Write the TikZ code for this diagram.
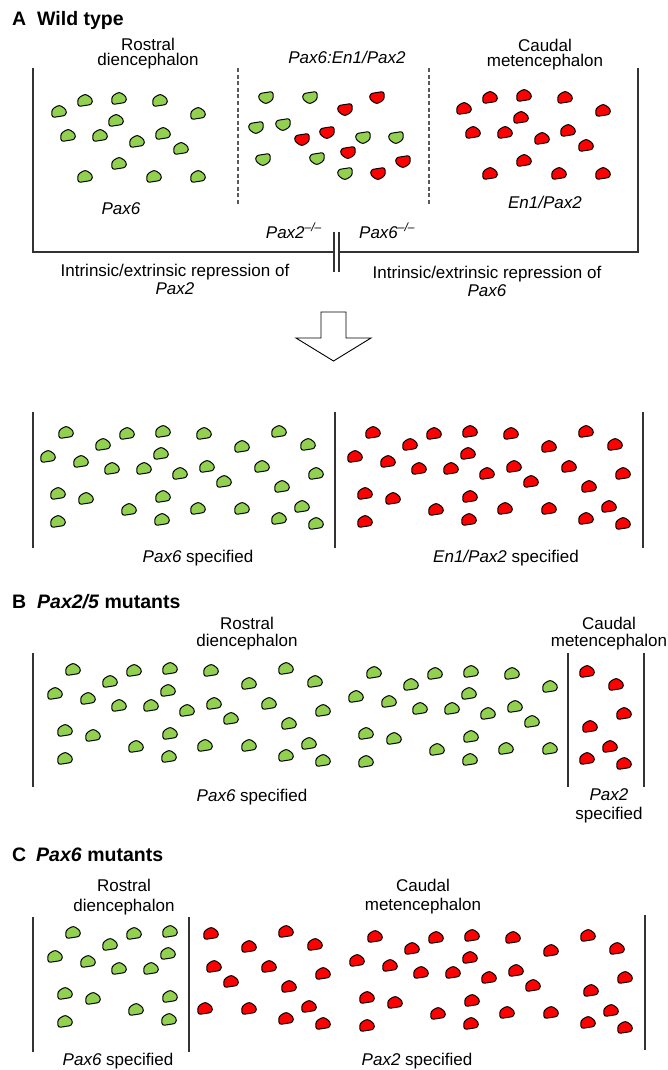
\documentclass[tikz,border=0pt]{standalone}
\usepackage{fontspec}
\setmainfont{Liberation Sans}
\usetikzlibrary{positioning}

\definecolor{cellgreen}{RGB}{146,208,80}
\definecolor{cellred}{RGB}{255,0,0}

% cell centres of the lower panels (one block, copied)
\newcommand{\cellset}{66/53,127/54,163/52,204/54,279/52,103/65,242/67,308/65,48/77,81/82,161/74,112/89,144/89,180/94,207/87,316/94,224/102,282/107,58/114,86/119,163/117,129/130,198/129,242/129,302/127,58/142,162/140,279/139,316/144}
% cell centres of the upper wild type regions
\newcommand{\upperset}{59/112,85/101,119/99,160/101,198/114,116/121,68/136,100/136,137/142,163/134,181/149,119/164,85/177,154/177,198/177}
% #1,#2 offset; green left of #3, red right of #4
\newcommand{\cellcopy}[4]{%
  \foreach \cx/\cy in \cellset {%
    \pgfmathsetmacro{\px}{\cx+#1}%
    \pgfmathsetmacro{\py}{\cy+#2}%
    \ifdim\px pt<#3pt \pic[fill=cellgreen] at (\px,\py) {cellshape};\fi
    \ifdim\px pt>#4pt \pic[fill=cellred] at (\px,\py) {cellshape};\fi
  }}

\begin{document}
\begin{tikzpicture}[x=1pt,y=-1pt,
  lab/.style={font=\fontsize{17}{15}\selectfont,align=center,inner sep=0pt},
  lab1/.style={font=\fontsize{17}{20}\selectfont,anchor=base,inner sep=0pt},
  ttl/.style={font=\fontsize{19.5}{22}\selectfont\bfseries,anchor=base west,inner sep=0pt},
  wall/.style={line width=1.2pt,black!80},
  seam/.style={line width=1.1pt,black!65,dash pattern=on 4pt off 2.6pt},
  cellshape/.pic={\path[pic actions,draw=black,line width=1pt,line join=round,rounded corners=2.6pt]
    (-7,5.6) -- (7,3.4) -- (7.5,-2.2) -- (0.3,-7.2) -- (-7.3,-2.6) -- cycle;},
  cellflip/.pic={\path[pic actions,draw=black,line width=1pt,line join=round,rounded corners=2.6pt,rotate=180]
    (-7,5.6) -- (7,3.4) -- (7.5,-2.2) -- (0.3,-7.2) -- (-7.3,-2.6) -- cycle;}]
\useasboundingbox (0,0) rectangle (667,1070);

% A: wild type
\node[ttl] (letA) at (12,26) {A};
\node[ttl] (ttlA) at (37,26) {Wild type};
\node[lab] (rostA) at (148,54) {Rostral\\diencephalon};
\node[lab1] (mixA) at (347,64) {\textit{Pax6:En1/Pax2}};
\node[lab] (caudA) at (545,55) {Caudal\\metencephalon};
\draw[wall] (33,68) -- (33,252) -- (334,252) (339,252) -- (638,252) -- (638,68);
\draw[wall] (334,232) -- (334,272) (339,232) -- (339,272);
\draw[seam] (238,68) -- (238,205);
\draw[seam] (429,68) -- (429,205);
\foreach \cx/\cy in \upperset {
  \pic[fill=cellgreen] at (\cx,\cy) {cellshape};
  \pic[fill=cellred] at (\cx+405,\cy-3) {cellshape};
}
\foreach \cx/\cy/\cc in {266/97/cellgreen,310/97/cellgreen,256/127/cellgreen,283/124/cellgreen,263/159/cellgreen,317/158/cellgreen,363/137/cellgreen,396/137/cellgreen,345/173/cellgreen,345/109/cellred,377/97/cellred,302/139/cellred,327/132/cellred,348/152/cellred,403/161/cellred,378/173/cellred}
  \pic[fill=\cc] at (\cx,\cy) {cellflip};
\node[lab1] (pax6A) at (121,214) {\textit{Pax6}};
\node[lab1] (enA) at (545,208) {\textit{En1/Pax2}};
\node[lab1,anchor=base east] (koL) at (322,238) {\textit{Pax2}\textsuperscript{\textit{--/--}}};
\node[lab1,anchor=base west] (koR) at (359,238) {\textit{Pax6}\textsuperscript{\textit{--/--}}};
\node[lab,font=\fontsize{17}{18}\selectfont] (repL) at (175,279.8) {Intrinsic/extrinsic repression of\\\textit{Pax2}};
\node[lab,font=\fontsize{17}{18}\selectfont] (repR) at (487,281.8) {Intrinsic/extrinsic repression of\\\textit{Pax6}};

% open arrow
\draw[line width=0.9pt,fill=white] (321,312) -- (346,312) -- (346,338) -- (371,338) -- (333.5,361) -- (296,338) -- (321,338) -- cycle;

% A: after repression
\draw[wall] (33,412) -- (33,548);
\draw[wall] (335,412) -- (335,548);
\draw[wall] (643,412) -- (643,548);
\cellcopy{0}{380}{1000}{1000}
\cellcopy{307}{380}{0}{0}
\pic[fill=cellgreen] at (262,467) {cellshape};
\pic[fill=cellred] at (569,467) {cellshape};
\node[lab1] (specAL) at (198,562) {\textit{Pax6} specified};
\node[lab1] (specAR) at (506,562) {\textit{En1/Pax2} specified};

% B: Pax2/5 mutants
\node[ttl] (letB) at (12,608) {B};
\node[ttl] (ttlB) at (37,608) {\textit{Pax2/5} mutants};
\node[lab,font=\fontsize{17}{17}\selectfont] (rostB) at (247,634) {Rostral\\diencephalon};
\node[lab,font=\fontsize{17}{17}\selectfont] (caudB) at (609,634) {Caudal\\metencephalon};
\draw[wall] (33,653) -- (33,787);
\draw[wall] (568,653) -- (568,787);
\draw[wall] (644,653) -- (644,787);
\cellcopy{7}{617}{1000}{1000}
\pic[fill=cellgreen] at (269,704) {cellshape};
\cellcopy{308}{620}{560}{575}
\node[lab1] (specBL) at (252,801) {\textit{Pax6} specified};
\node[lab,font=\fontsize{17}{19}\selectfont] (specBR) at (609,806) {\textit{Pax2}\\specified};

% C: Pax6 mutants
\node[ttl] (letC) at (12,861) {C};
\node[ttl] (ttlC) at (36,861) {\textit{Pax6} mutants};
\node[lab,font=\fontsize{17}{19.5}\selectfont] (rostC) at (124,897) {Rostral\\diencephalon};
\node[lab,font=\fontsize{17}{19}\selectfont] (caudC) at (423,896.5) {Caudal\\metencephalon};
\draw[wall] (33,917) -- (33,1052);
\draw[wall] (189,917) -- (189,1052);
\draw[wall] (645,915) -- (645,1050);
\cellcopy{7}{880}{183}{193}
\pic[fill=cellred] at (269,967) {cellshape};
\cellcopy{309}{884}{0}{0}
\node[lab1] (specCL) at (118,1065) {\textit{Pax6} specified};
\node[lab1] (specCR) at (417,1065) {\textit{Pax2} specified};
\end{tikzpicture}
\end{document}
